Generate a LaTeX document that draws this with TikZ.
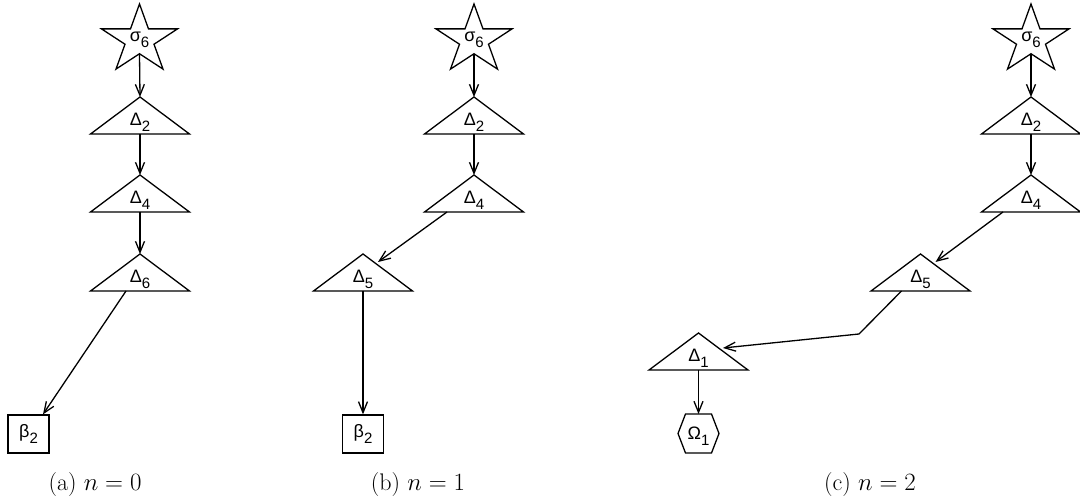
\documentclass[tikz,border=0pt]{standalone}
\usepackage{fontspec}
\newfontfamily\lblfont{Liberation Sans}
\usetikzlibrary{arrows.meta,calc}
\newcommand{\lab}[2]{{\lblfont\fontsize{18}{18}\selectfont #1\raisebox{-6pt}{\fontsize{15}{15}\selectfont #2}}}
\tikzset{
  edge/.style={-{Straight Barb[length=11pt,width=9pt,line width=1.3pt]}},
  lbl/.style={inner sep=0pt,anchor=base},
  captext/.style={inner sep=0pt,anchor=base,font=\fontsize{24}{28}\selectfont},
  boxnode/.style={draw,minimum width=41pt,minimum height=38pt,inner sep=0pt},
  tri/.pic={
    \draw (0,0) -- (49.5,37) -- (-49.5,37) -- cycle;
    \coordinate (-apex) at (0,0);
    \coordinate (-base) at (0,37);
    \node[lbl] (-l) at (0,29) {#1};
  },
  starpic/.pic={
    \draw (0,-36) -- (9,-11.1) -- (38,-11.1) -- (14.5,4.25) -- (23.5,29.1) -- (0,13.75)
      -- (-23.5,29.1) -- (-14.5,4.25) -- (-38,-11.1) -- (-9,-11.1) -- cycle;
    \coordinate (-bot) at (0,13.75);
    \node[lbl] (-l) at (0,2) {#1};
  },
  hexpic/.pic={
    \draw (-20.5,0) -- (-13,-19.5) -- (13,-19.5) -- (20.5,0) -- (13,19.5) -- (-13,19.5) -- cycle;
    \coordinate (-top) at (0,-19.5);
    \node[lbl] (-l) at (0,6) {#1};
  }
}
\begin{document}
\begin{tikzpicture}[x=1pt,y=-1pt,line width=1.3pt]
\useasboundingbox (0,0) rectangle (1080,502);
% panel (a)
\pic (as) at (139.5,40) {starpic={\lab{σ}{6}}};
\pic (a2) at (140,97) {tri={\lab{Δ}{2}}};
\pic (a4) at (140,175) {tri={\lab{Δ}{4}}};
\pic (a6) at (140,254) {tri={\lab{Δ}{6}}};
\node[boxnode] (ab) at (28.5,434) {\lab{β}{2}};
\draw[edge] (as-bot) -- (a2-apex);
\draw[edge] (a2-base) -- (a4-apex);
\draw[edge] (a4-base) -- (a6-apex);
\draw[edge] ($(a6-apex)+(-14,37)$) -- ($(ab.north)+(14.5,0)$);
% panel (b)
\pic (bs) at (474,40) {starpic={\lab{σ}{6}}};
\pic (b2) at (474,97) {tri={\lab{Δ}{2}}};
\pic (b4) at (474,175) {tri={\lab{Δ}{4}}};
\pic (b5) at (363,254) {tri={\lab{Δ}{5}}};
\node[boxnode] (bb) at (363,434) {\lab{β}{2}};
\draw[edge] (bs-bot) -- (b2-apex);
\draw[edge] (b2-base) -- (b4-apex);
\draw[edge] ($(b4-apex)+(-27,37)$) -- ($(b5-apex)+(15,8)$);
\draw[edge] (b5-base) -- (bb.north);
% panel (c)
\pic (cs) at (1031,40) {starpic={\lab{σ}{6}}};
\pic (c2) at (1031,97) {tri={\lab{Δ}{2}}};
\pic (c4) at (1031,175) {tri={\lab{Δ}{4}}};
\pic (c5) at (920.5,254) {tri={\lab{Δ}{5}}};
\pic (c1) at (698.5,333) {tri={\lab{Δ}{1}}};
\pic (ch) at (698.5,433.5) {hexpic={\lab{Ω}{1}}};
\coordinate (cbend) at (859,334);
\draw[edge] (cs-bot) -- (c2-apex);
\draw[edge] (c2-base) -- (c4-apex);
\draw[edge] ($(c4-apex)+(-28,37)$) -- ($(c5-apex)+(15,8)$);
\draw[edge] ($(c5-apex)+(-19,37)$) -- (cbend) -- ($(c1-apex)+(24.5,15)$);
\draw[edge] (c1-base) -- (ch-top);
% captions
\node[captext] (capa) at (95,491) {(a) $n=0$};
\node[captext] (capb) at (418,491) {(b) $n=1$};
\node[captext] (capc) at (870,491) {(c) $n=2$};
\end{tikzpicture}
\end{document}
